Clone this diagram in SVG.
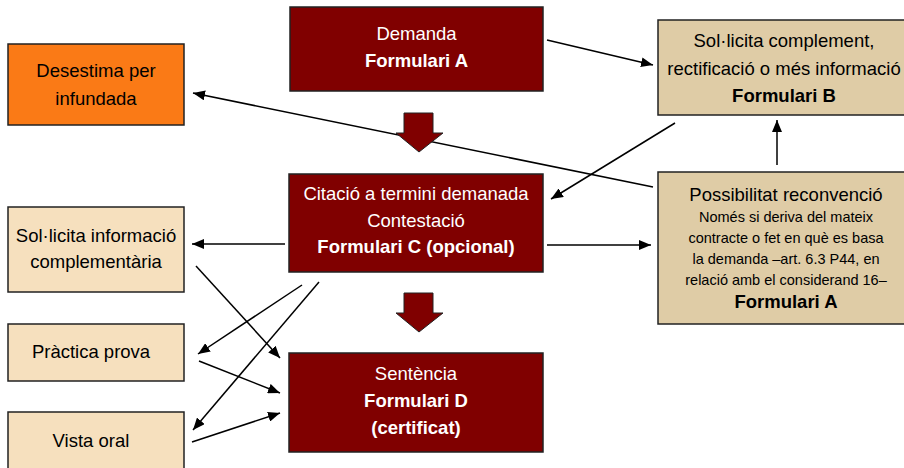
<svg xmlns="http://www.w3.org/2000/svg" width="904" height="468" viewBox="0 0 904 468">
<style>
text{font-family:"Liberation Sans",Arial,sans-serif;font-size:18.5px;text-anchor:middle;fill:#000}
.w{fill:#fff}
.b{font-weight:bold}
.s{font-size:14.5px}
.red{fill:#800000;stroke:#222;stroke-width:1.5}
.tan{fill:#DFCCA6;stroke:#222;stroke-width:1.5}
.beige{fill:#F6E0BE;stroke:#222;stroke-width:1.5}
.orange{fill:#FA7A16;stroke:#222;stroke-width:1.5}
.c line{stroke:#000;stroke-width:1.5;marker-end:url(#ah)}
.blk{fill:#800000;stroke:#222;stroke-width:1}
</style>
<defs>
<marker id="ah" viewBox="0 0 12 10" refX="12" refY="5" markerWidth="12" markerHeight="10" markerUnits="userSpaceOnUse" orient="auto">
<path d="M0,0 L12,5 L0,10 Z" fill="#000"/>
</marker>
</defs>
<g id="connectors" class="c">
<line x1="547" y1="40" x2="653" y2="65"/>
<line x1="675" y1="123" x2="551" y2="199"/>
<line x1="653" y1="187" x2="193" y2="93"/>
<line x1="777" y1="165" x2="777" y2="120"/>
<line x1="285" y1="244" x2="192" y2="244"/>
<line x1="547" y1="245" x2="651" y2="245"/>
<line x1="196" y1="266" x2="280" y2="358"/>
<line x1="302" y1="285" x2="198" y2="354"/>
<line x1="319" y1="282" x2="193" y2="430"/>
<line x1="199" y1="361" x2="280" y2="393"/>
<line x1="192" y1="442" x2="280" y2="413"/>
</g>
<g id="flow-arrow-1"><path class="blk" d="M404,113 H433 V133 H443 L419,152 L396,133 H404 Z"/></g>
<g id="flow-arrow-2"><path class="blk" d="M404,293 H433 V313 H443 L419,332 L396,313 H404 Z"/></g>
<g id="demanda">
<rect class="red" x="290" y="7" width="253" height="84"/>
<text class="w" x="416.5" y="40">Demanda</text>
<text class="w b" x="416.5" y="67">Formulari A</text>
</g>
<g id="formulari-b">
<rect class="tan" x="658" y="20" width="252" height="95"/>
<text x="784" y="47">Sol·licita complement,</text>
<text x="784" y="75">rectificació o més informació</text>
<text class="b" x="784" y="102">Formulari B</text>
</g>
<g id="desestima">
<rect class="orange" x="8" y="44" width="176" height="81"/>
<text x="96" y="77">Desestima per</text>
<text x="96" y="105">infundada</text>
</g>
<g id="citacio">
<rect class="red" x="289" y="174" width="254" height="98"/>
<text class="w" x="416" y="200">Citació a termini demanada</text>
<text class="w" x="416" y="227">Contestació</text>
<text class="w b" x="416" y="253">Formulari C (opcional)</text>
</g>
<g id="reconvencio">
<rect class="tan" x="658" y="172" width="252" height="152"/>
<text x="786" y="201">Possibilitat reconvenció</text>
<text class="s" x="786" y="222">Només si deriva del mateix</text>
<text class="s" x="786" y="243">contracte o fet en què es basa</text>
<text class="s" x="786" y="264">la demanda –art. 6.3 P44, en</text>
<text class="s" x="786" y="285">relació amb el considerand 16–</text>
<text class="b" x="786" y="308">Formulari A</text>
</g>
<g id="informacio">
<rect class="beige" x="8" y="207" width="176" height="85"/>
<text x="96" y="242">Sol·licita informació</text>
<text x="96" y="268">complementària</text>
</g>
<g id="practica">
<rect class="beige" x="8" y="324" width="176" height="57"/>
<text x="91" y="358">Pràctica prova</text>
</g>
<g id="vista">
<rect class="beige" x="8" y="412" width="176" height="60"/>
<text x="91" y="447">Vista oral</text>
</g>
<g id="sentencia">
<rect class="red" x="289" y="353" width="254" height="99"/>
<text class="w" x="416" y="380">Sentència</text>
<text class="w b" x="416" y="407">Formulari D</text>
<text class="w b" x="416" y="434">(certificat)</text>
</g>
</svg>
